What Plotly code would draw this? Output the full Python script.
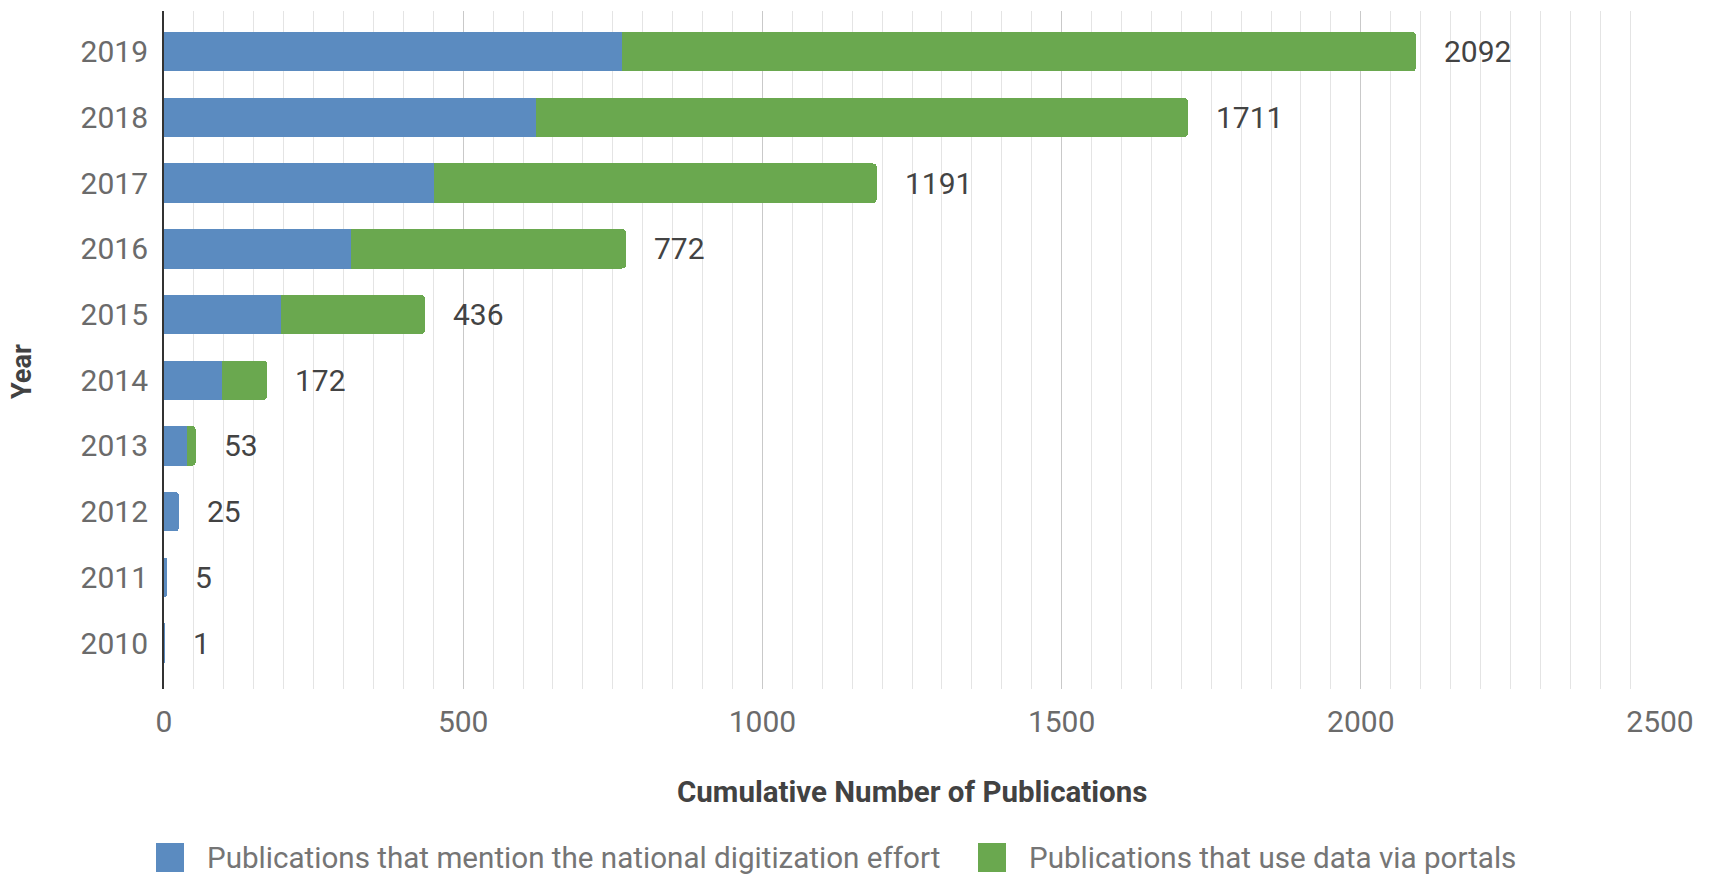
import plotly.graph_objects as go

# Cumulative publication counts per year
years = [2010, 2011, 2012, 2013, 2014, 2015, 2016, 2017, 2018, 2019]
totals = [1, 5, 25, 53, 172, 436, 772, 1191, 1711, 2092]
mention_digitization = [1, 5, 25, 39, 97, 196, 312, 451, 621, 766]
use_portal_data = [t - m for t, m in zip(totals, mention_digitization)]

series_names = [
    "Publications that mention the national digitization effort",
    "Publications that use data via portals",
]
series_colors = ["#5b8bc0", "#6aa84f"]
x_ticks = [0, 500, 1000, 1500, 2000, 2500]

W, H = 1709, 874
ML, MR, MT, MB = 164, 49, 11, 185
PW, PH = W - ML - MR, H - MT - MB


def px_x(p):
    return (p - ML) / PW


def px_y(p):
    return (H - MB - p) / PH


FONT = "Roboto, 'Open Sans', sans-serif"

fig = go.Figure()
for vals, name, color in zip([mention_digitization, use_portal_data], series_names, series_colors):
    fig.add_trace(go.Bar(
        y=years, x=vals, name=name, orientation="h",
        marker=dict(color=color, line=dict(width=0)),
        hoverinfo="x+name",
    ))

# total labels at the end of each stacked bar
for yr, tot in zip(years, totals):
    fig.add_annotation(
        x=tot, y=yr, text=str(tot), showarrow=False,
        xanchor="left", yanchor="middle", xshift=26,
        font=dict(family=FONT, size=30, color="#434343"),
    )

# legend drawn as swatches + labels below the axis title
legend_items = [(156, 205), (978, 1027)]
for (sx, tx), name, color in zip(legend_items, series_names, series_colors):
    fig.add_shape(
        type="rect", xref="paper", yref="paper",
        x0=px_x(sx), x1=px_x(sx + 28), y0=px_y(872), y1=px_y(843),
        fillcolor=color, line=dict(width=0),
    )
    fig.add_annotation(
        xref="paper", yref="paper", x=px_x(tx), y=px_y(858),
        text=name, showarrow=False, xanchor="left", yanchor="middle",
        font=dict(family=FONT, size=29.6, color="#757575"),
    )

# axis titles
fig.add_annotation(
    xref="paper", yref="paper", x=0.5, y=px_y(792),
    text="<b>Cumulative Number of Publications</b>", showarrow=False,
    xanchor="center", yanchor="middle",
    font=dict(family=FONT, size=29.5, color="#424242"),
)
fig.add_annotation(
    xref="paper", yref="paper", x=px_x(22), y=px_y(372),
    text="<b>Year</b>", showarrow=False, textangle=-90,
    xanchor="center", yanchor="middle",
    font=dict(family=FONT, size=27, color="#424242"),
)

fig.update_layout(
    width=W, height=H,
    margin=dict(l=ML, r=MR, t=MT, b=MB),
    barmode="stack", bargap=0.4, barcornerradius=4,
    showlegend=False,
    plot_bgcolor="white", paper_bgcolor="white",
    font=dict(family=FONT, color="#6b6b6b"),
)
fig.update_xaxes(
    range=[0, 2500], tickvals=x_ticks,
    showgrid=True, gridcolor="#c9c9c9", gridwidth=1,
    minor=dict(dtick=50, showgrid=True, gridcolor="#e4e4e4", gridwidth=1),
    zeroline=False, showline=False,
    tickfont=dict(family=FONT, size=30, color="#6b6b6b"),
    ticks="", ticklabelstandoff=12,
)
fig.update_yaxes(
    range=[2010 - 0.70, 2019 + 0.62], tickvals=years,
    showgrid=False, zeroline=False,
    showline=True, linecolor="#333333", linewidth=2,
    tickfont=dict(family=FONT, size=30, color="#6b6b6b"),
    ticks="", ticklabelstandoff=8,
)

fig.write_html("out.html")
